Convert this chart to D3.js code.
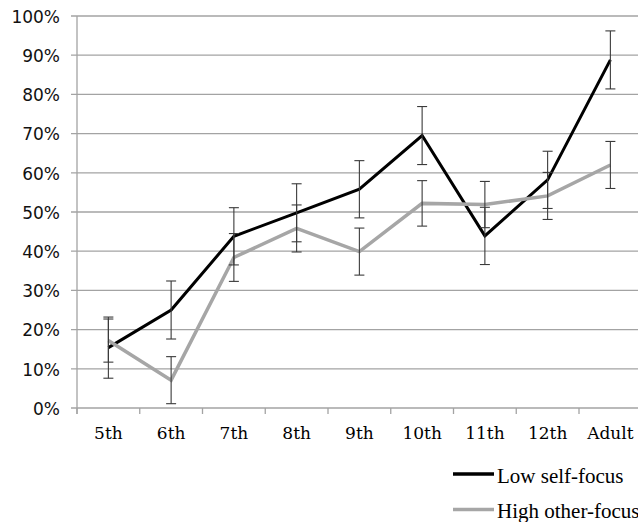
<!DOCTYPE html>
<html lang="en">
<head>
    <meta charset="UTF-8">
    <style>
        body { margin: 0; background: #fff; }
        .ytick text { font: 17px "DejaVu Sans", sans-serif; fill: #111; }
        .xtick text { font: 17px "DejaVu Serif", serif; fill: #000; }
        .legend text { font: 21px "Liberation Serif", "Times New Roman", serif; fill: #000; }
    </style>
    <script src="https://d3js.org/d3.v7.min.js"></script>
    <title>Low self-focus vs High other-focus</title>
</head>
<body>
    <svg width="638" height="522"></svg>

    <script>

        // data (percent)
        var categories = ["5th", "6th", "7th", "8th", "9th", "10th", "11th", "12th", "Adult"];
        var lowSelf = [15.4, 25, 43.8, 49.8, 55.8, 69.5, 43.9, 58.2, 88.8];
        var lowSelfErr = [7.8, 7.4, 7.3, 7.4, 7.3, 7.4, 7.3, 7.3, 7.4];
        var highOther = [17.2, 7.1, 38.4, 45.8, 39.9, 52.2, 51.9, 54.1, 62.0];
        var highOtherErr = [5.5, 6, 6.1, 6, 6, 5.8, 5.9, 6, 6];
        var yTicks = [0, 10, 20, 30, 40, 50, 60, 70, 80, 90, 100];

        var series = [
            { name: "Low self-focus", values: lowSelf, err: lowSelfErr, color: "#000", width: 3 },
            { name: "High other-focus", values: highOther, err: highOtherErr, color: "#a6a6a6", width: 3.5 }
        ];

        var svg = d3.select("svg");

        // plot area (window.top is taken, so prefixed names)
        var plotLeft = 77, plotTop = 16, plotBottom = 408, plotRight = 641.75;

        var x = d3.scaleBand().domain(categories).range([plotLeft, plotRight]);
        var y = d3.scaleLinear().domain([0, 100]).range([plotBottom, plotTop]);

        // gridlines
        svg.append("g")
           .selectAll("line")
           .data(yTicks)
           .enter().append("line")
           .attr("x1", plotLeft - 6)
           .attr("x2", 638)
           .attr("y1", function(d) { return y(d); })
           .attr("y2", function(d) { return y(d); })
           .attr("stroke", "#a3a3a3")
           .attr("stroke-width", 1.3);

        // y axis labels
        var yAxis = svg.append("g")
           .attr("class", "ytick")
           .attr("transform", "translate(" + plotLeft + ",0)")
           .call(d3.axisLeft(y).tickValues(yTicks).tickSize(6).tickPadding(11)
                 .tickFormat(function(d) { return d + "%"; }));
        yAxis.select(".domain").remove();
        yAxis.selectAll("line").remove();
        yAxis.selectAll("text").attr("dy", "0.37em");

        // vertical axis line
        svg.append("line")
           .attr("x1", plotLeft).attr("x2", plotLeft)
           .attr("y1", plotTop).attr("y2", plotBottom + 6)
           .attr("stroke", "#a3a3a3")
           .attr("stroke-width", 1.3);

        // category boundary ticks
        var bounds = categories.map(function(c) { return x(c); });
        svg.append("g")
           .selectAll("line")
           .data(bounds)
           .enter().append("line")
           .attr("x1", function(d) { return d; })
           .attr("x2", function(d) { return d; })
           .attr("y1", plotBottom)
           .attr("y2", plotBottom + 6)
           .attr("stroke", "#a3a3a3")
           .attr("stroke-width", 1.3);

        // x axis labels
        var xAxis = svg.append("g")
           .attr("class", "xtick")
           .attr("transform", "translate(0," + plotBottom + ")")
           .call(d3.axisBottom(x).tickSize(0).tickPadding(19));
        xAxis.select(".domain").remove();

        // lines, black first, grey drawn over it
        var line = d3.line()
           .x(function(d, i) { return x(categories[i]) + x.bandwidth() / 2; })
           .y(function(d) { return y(d); });

        series.forEach(function(s) {
            svg.append("path")
               .datum(s.values)
               .attr("d", line)
               .attr("fill", "none")
               .attr("stroke", s.color)
               .attr("stroke-width", s.width)
               .attr("stroke-linejoin", "miter");
        });

        // error bars
        series.forEach(function(s) {
            var g = svg.append("g").attr("stroke", "#3a3a3a").attr("stroke-width", 1.1);
            s.values.forEach(function(v, i) {
                var cx = x(categories[i]) + x.bandwidth() / 2;
                var hi = y(v + s.err[i]), lo = y(v - s.err[i]);
                g.append("line").attr("x1", cx).attr("x2", cx).attr("y1", hi).attr("y2", lo);
                g.append("line").attr("x1", cx - 5).attr("x2", cx + 5).attr("y1", hi).attr("y2", hi);
                g.append("line").attr("x1", cx - 5).attr("x2", cx + 5).attr("y1", lo).attr("y2", lo);
            });
        });

        // legend
        var legend = svg.append("g")
           .attr("class", "legend")
           .selectAll("g")
           .data(series)
           .enter().append("g")
           .attr("transform", function(d, i) { return "translate(0," + (474 + i * 35.5) + ")"; });

        legend.append("line")
              .attr("x1", 453)
              .attr("x2", 494)
              .attr("stroke", function(d) { return d.color; })
              .attr("stroke-width", 3.5);

        legend.append("text")
              .attr("x", 497)
              .attr("y", 8.5)
              .text(function(d) { return d.name; });

    </script>
</body>
</html>
